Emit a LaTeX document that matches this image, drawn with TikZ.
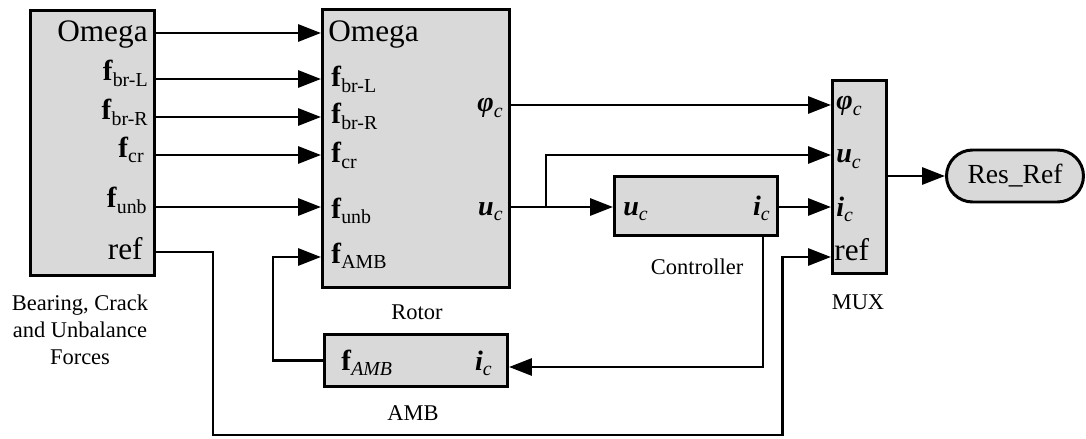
\documentclass[tikz,border=0pt]{standalone}
\usepackage{fontspec}
\setmainfont{LiberationSerif}[
    Extension=.ttf,
    UprightFont=*-Regular,
    BoldFont=*-Bold,
    ItalicFont=*-Italic,
    BoldItalicFont=*-BoldItalic]
\usetikzlibrary{arrows.meta}

\newcommand{\portfont}{\fontsize{17.8}{20}\selectfont}
\newcommand{\subfont}{\fontsize{11.3}{13}\selectfont}
\newcommand{\capfont}{\fontsize{12.8}{15.4}\selectfont}
\newcommand{\fvec}[1]{{\fontsize{16.5}{19}\selectfont\textbf{f}}\raisebox{-0.35ex}{\subfont #1}}
\newcommand{\cvec}[1]{{\fontsize{16}{19}\selectfont\textbf{\textit{#1}}}\raisebox{-0.35ex}{\subfont\textit{c}}}

\begin{document}
\begin{tikzpicture}[
    x=0.02cm, y=-0.02cm,
    >={Triangle[length=4.6mm,width=3.4mm]},
    block/.style={draw=black, fill=black!15, line width=1.7pt, inner sep=0pt},
    sig/.style={->, line width=1.7pt, black},
    inlbl/.style={anchor=base west, inner sep=0pt, font=\portfont},
    outlbl/.style={anchor=base east, inner sep=0pt, font=\portfont},
    caption/.style={font=\capfont, align=center, inner sep=0pt}
]
\useasboundingbox (0,0) rectangle (1086,439);

% --- Blocks ---
\node[block, minimum width=2.48cm, minimum height=5.30cm] (src)  at (92.5,143)   {};
\node[block, minimum width=3.74cm, minimum height=5.56cm] (rot)  at (416,148.5)  {};
\node[block, minimum width=3.26cm, minimum height=1.18cm] (ctrl) at (696,206)    {};
\node[block, minimum width=3.66cm, minimum height=1.04cm] (amb)  at (416,360.5)  {};
\node[block, minimum width=1.08cm, minimum height=3.86cm] (mux)  at (859.5,177)  {};
\node[block, minimum width=2.74cm, minimum height=1.04cm, rounded corners=0.52cm,
      font=\fontsize{15.7}{18}\selectfont] (res) at (1015,176) {Res\_Ref};

% --- Force block ports ---
\node[outlbl] (s-om)  at (148,42)  {Omega};
\node[outlbl] (s-bl)  at (148,81)  {\fvec{br-L}};
\node[outlbl] (s-br)  at (148,120) {\fvec{br-R}};
\node[outlbl] (s-cr)  at (144,157) {\fvec{cr}};
\node[outlbl] (s-unb) at (147,208) {\fvec{unb}};
\node[outlbl] (s-ref) at (143,259) {ref};

% --- Rotor ports ---
\node[inlbl] (r-om)  at (328,42)  {Omega};
\node[inlbl] (r-bl)  at (331,87)  {\fvec{br-L}};
\node[inlbl] (r-br)  at (331,124) {\fvec{br-R}};
\node[inlbl] (r-cr)  at (331,163) {\fvec{cr}};
\node[inlbl] (r-unb) at (331,218) {\fvec{unb}};
\node[inlbl] (r-amb) at (331,263) {\fvec{AMB}};
\node[outlbl] (r-phi) at (503,112) {\cvec{φ}};
\node[outlbl] (r-u)   at (503,215) {\cvec{u}};

% --- Controller, AMB and MUX ports ---
\node[inlbl]  (c-u) at (623,215) {\cvec{u}};
\node[outlbl] (c-i) at (770,215) {\cvec{i}};
\node[inlbl]  (a-f) at (341,370) {\fvec{\textit{AMB}}};
\node[outlbl] (a-i) at (492,370) {\cvec{i}};
\node[inlbl] (m-phi) at (836,110) {\cvec{φ}};
\node[inlbl] (m-u)   at (836,163) {\cvec{u}};
\node[inlbl] (m-i)   at (836,216) {\cvec{i}};
\node[inlbl] (m-ref) at (834,260) {ref};

% --- Captions ---
\node[caption] (srccap)  at (80,330)  {Bearing, Crack\\and Unbalance\\Forces};
\node[caption] (rotcap)  at (417,312) {Rotor};
\node[caption] (ctrlcap) at (697,267) {Controller};
\node[caption] (ambcap)  at (413,413) {AMB};
\node[caption] (muxcap)  at (858,302) {MUX};

% --- Forces into rotor ---
\foreach \y in {33,79,117,155,207}
    \draw[sig] (src.east |- 0,\y) -- (rot.west |- 0,\y);

% --- ref to MUX along the bottom ---
\coordinate (refdown) at (213,435);
\coordinate (refup)   at (782,257);
\draw[sig] (src.east |- 0,252) -| (refdown) -| (refup) -- (mux.west |- refup);

% --- Rotor outputs ---
\draw[sig] (rot.east |- 0,105) -- (mux.west |- 0,105);
\coordinate (split) at (546,207);
\draw[sig] (rot.east |- split) -- (ctrl.west |- split);
\draw[sig] (split) |- (mux.west |- 0,155);
\draw[sig] (ctrl.east |- 0,207) -- (mux.west |- 0,207);

% --- Feedback through AMB ---
\coordinate (tap)  at (ctrl.south -| 763,0);
\coordinate (back) at (273,257);
\draw[sig] (tap) |- (amb.east |- 0,367);
\draw[sig] (amb.west) -| (back) -- (rot.west |- back);

% --- Output ---
\draw[sig] (mux.east |- res.west) -- (res.west);

\end{tikzpicture}
\end{document}
